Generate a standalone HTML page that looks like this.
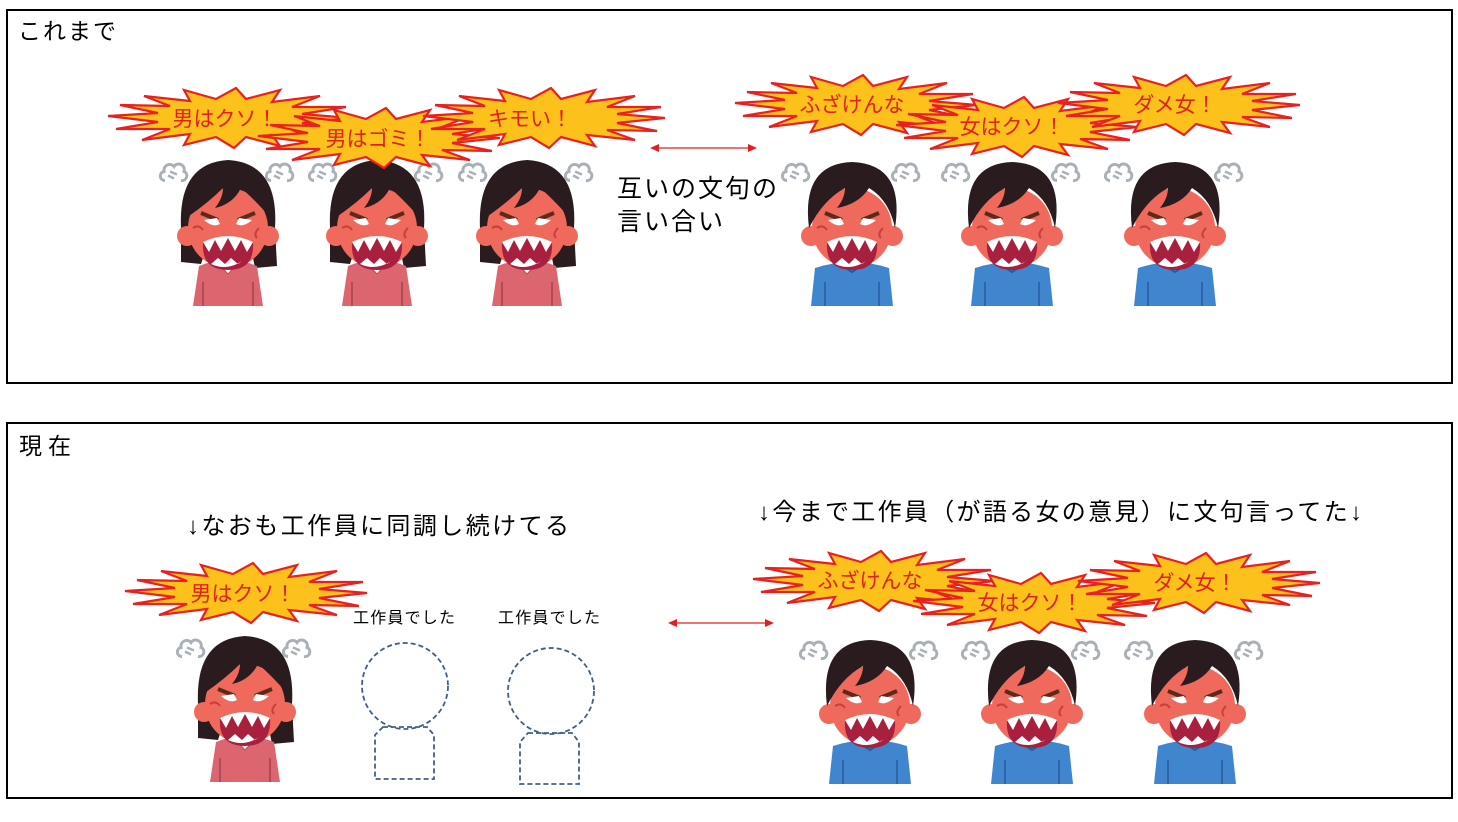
<!DOCTYPE html>
<html><head><meta charset="utf-8"><style>
html,body{margin:0;padding:0;background:#fff;}
svg{display:block;font-family:"Liberation Sans","Noto Sans CJK JP",sans-serif;}
</style></head><body>
<svg width="1458" height="822" viewBox="0 0 1458 822" xmlns="http://www.w3.org/2000/svg">
<defs>
<symbol id="burst" viewBox="-125 -35 250 70" overflow="visible">
<polygon points="120,0 72,5 112,13 62,12 90,22 42,17 50,28 16,19 4,30 -14,19 -46,27 -40,16 -88,22 -60,11 -114,11 -72,4 -122,-2 -72,-5 -110,-13 -60,-12 -86,-22 -40,-17 -46,-28 -14,-19 6,-30 16,-19 50,-28 42,-16 90,-22 62,-11 116,-11 72,-4" fill="#fcc21b" stroke="#e82020" stroke-width="2.2" stroke-linejoin="miter"/>
</symbol>
<symbol id="steam" viewBox="0 0 30 26" overflow="visible">
<path d="M6,20 C0,20 0,12 5,11 C4,4 12,2 15,6 C18,1 27,4 25,11 C30,13 28,21 22,20" fill="#fff" stroke="#a8b0b8" stroke-width="3"/>
<path d="M9,15 L15,18 M11,11 L18,14" stroke="#a8b0b8" stroke-width="2.5"/>
</symbol>
<symbol id="face" viewBox="0 0 110 150" overflow="visible">
<circle cx="14" cy="78" r="10" fill="#ef6a5d"/>
<circle cx="96" cy="78" r="10" fill="#ef6a5d"/>
<ellipse cx="55" cy="70" rx="40" ry="40" fill="#ef6a5d"/>
<path d="M28,55 L45,62 M82,55 L65,62" stroke="#5a2a1a" stroke-width="4"/>
<path d="M31,62 Q40,70 47,66 L44,60 Z M79,62 Q70,70 63,66 L66,60 Z" fill="#fff"/>
<path d="M30,84 Q55,72 80,84 Q82,112 55,112 Q28,112 30,84 Z" fill="#a8203e"/>
<path d="M30,84 L36,94 L42,82 L48,93 L55,80 L62,93 L68,82 L74,94 L80,84 Q55,72 30,84 Z" fill="#fff"/>
<path d="M38,106 L45,100 L52,106 L58,100 L65,106 L72,101 Q55,114 38,106 Z" fill="#fff"/>
<path d="M20,70 Q26,66 30,72 M86,70 Q80,76 84,80" stroke="#c8403e" stroke-width="2" fill="none"/>
</symbol>
<symbol id="woman" viewBox="0 0 110 150" overflow="visible">
<path d="M8,70 Q5,5 55,2 Q106,5 102,70 L104,108 L82,110 L80,100 L30,100 L28,106 L8,104 Z" fill="#2a1c1e"/>
<path d="M26,108 Q55,96 84,108 L90,148 L20,148 Z" fill="#db6670"/>
<path d="M44,104 L55,116 L66,104 Z" fill="#fff" stroke="#c04a55" stroke-width="1"/>
<path d="M30,124 L30,148 M80,124 L80,148" stroke="#a8404a" stroke-width="1.5"/>
<use href="#face" x="0" y="0" width="110" height="150"/>
<path d="M16,58 Q20,16 55,14 Q92,16 96,58 Q80,40 68,30 Q60,46 42,50 Q50,40 50,30 Q36,44 16,58 Z" fill="#2a1c1e"/>
<use href="#steam" x="-14" y="2" width="30" height="27"/>
<use href="#steam" x="92" y="2" width="30" height="27"/>
</symbol>
<symbol id="man" viewBox="0 0 110 150" overflow="visible">
<path d="M18,110 Q55,98 92,110 L96,148 L14,148 Z" fill="#3f86cf"/>
<path d="M40,104 L55,114 L70,104" fill="none" stroke="#2a5a9a" stroke-width="2"/>
<path d="M28,124 L28,148 M82,124 L82,148" stroke="#2a5a9a" stroke-width="1.5"/>
<use href="#face" x="0" y="0" width="110" height="150"/>
<path d="M12,70 Q4,6 55,4 Q108,6 98,70 Q92,42 72,30 Q62,46 40,50 Q48,40 48,30 Q26,42 12,70 Z" fill="#2a1c1e"/>
<use href="#steam" x="-16" y="2" width="30" height="27"/>
<use href="#steam" x="94" y="2" width="30" height="27"/>
</symbol>
</defs>

<rect x="7" y="10" width="1445" height="373" fill="none" stroke="#000" stroke-width="2"/>
<rect x="7" y="423" width="1445" height="375" fill="none" stroke="#000" stroke-width="2"/>
<text x="18" y="39" font-size="23" textLength="98">これまで</text>
<text x="19" y="454" font-size="23" textLength="52">現在</text>

<use href="#woman" x="173" y="158" width="110" height="150"/>
<use href="#woman" x="322" y="158" width="110" height="150"/>
<use href="#woman" x="472" y="158" width="110" height="150"/>
<use href="#man" x="797" y="158" width="110" height="150"/>
<use href="#man" x="957" y="158" width="110" height="150"/>
<use href="#man" x="1120" y="158" width="110" height="150"/>

<g font-size="21" fill="#e0201a" text-anchor="middle">
<use href="#burst" x="105" y="83" width="250" height="70"/>
<text x="225" y="126">男はクソ！</text>
<use href="#burst" x="255" y="103" width="250" height="70"/>
<text x="378" y="146">男はゴミ！</text>
<use href="#burst" x="420" y="83" width="250" height="70"/>
<text x="530" y="126">キモい！</text>
<use href="#burst" x="732" y="70" width="250" height="70"/>
<text x="852" y="112">ふざけんな</text>
<use href="#burst" x="893" y="92" width="250" height="70"/>
<text x="1012" y="134">女はクソ！</text>
<use href="#burst" x="1055" y="70" width="250" height="70"/>
<text x="1175" y="112">ダメ女！</text>
</g>

<g stroke="#e02020" stroke-width="1.2" fill="#e02020">
<line x1="654" y1="148" x2="753" y2="148"/>
<polygon points="650,148 659,144 659,152" stroke="none"/>
<polygon points="757,148 748,144 748,152" stroke="none"/>
</g>
<text x="617" y="197" font-size="25" textLength="160">互いの文句の</text>
<text x="617" y="230" font-size="25" textLength="106">言い合い</text>

<text x="187" y="534" font-size="24" textLength="382">↓なおも工作員に同調し続けてる</text>
<text x="758" y="520" font-size="24" textLength="604">↓今まで工作員（が語る女の意見）に文句言ってた↓</text>

<use href="#woman" x="190" y="634" width="110" height="150"/>
<use href="#man" x="815" y="636" width="110" height="150"/>
<use href="#man" x="977" y="636" width="110" height="150"/>
<use href="#man" x="1140" y="636" width="110" height="150"/>

<g font-size="21" fill="#e0201a" text-anchor="middle">
<use href="#burst" x="122" y="558" width="250" height="70"/>
<text x="243" y="601">男はクソ！</text>
<use href="#burst" x="750" y="546" width="250" height="70"/>
<text x="870" y="588">ふざけんな</text>
<use href="#burst" x="910" y="568" width="250" height="70"/>
<text x="1030" y="610">女はクソ！</text>
<use href="#burst" x="1075" y="548" width="250" height="70"/>
<text x="1195" y="590">ダメ女！</text>
</g>

<g stroke="#e02020" stroke-width="1.2" fill="#e02020">
<line x1="672" y1="623" x2="770" y2="623"/>
<polygon points="668,623 677,619 677,627" stroke="none"/>
<polygon points="774,623 765,619 765,627" stroke="none"/>
</g>

<text x="353" y="623" font-size="16" textLength="102">工作員でした</text>
<text x="498" y="623" font-size="16" textLength="102">工作員でした</text>
<g fill="none" stroke="#3e6088" stroke-width="1.8" stroke-dasharray="5,3">
<circle cx="405" cy="686" r="43"/>
<path d="M383,727 L427,727 L434,735 L434,779 L375,779 L375,735 Z"/>
<circle cx="551" cy="691" r="43"/>
<path d="M528,733 L572,733 L579,742 L579,784 L520,784 L520,742 Z"/>
</g>
</svg>
</body></html>
